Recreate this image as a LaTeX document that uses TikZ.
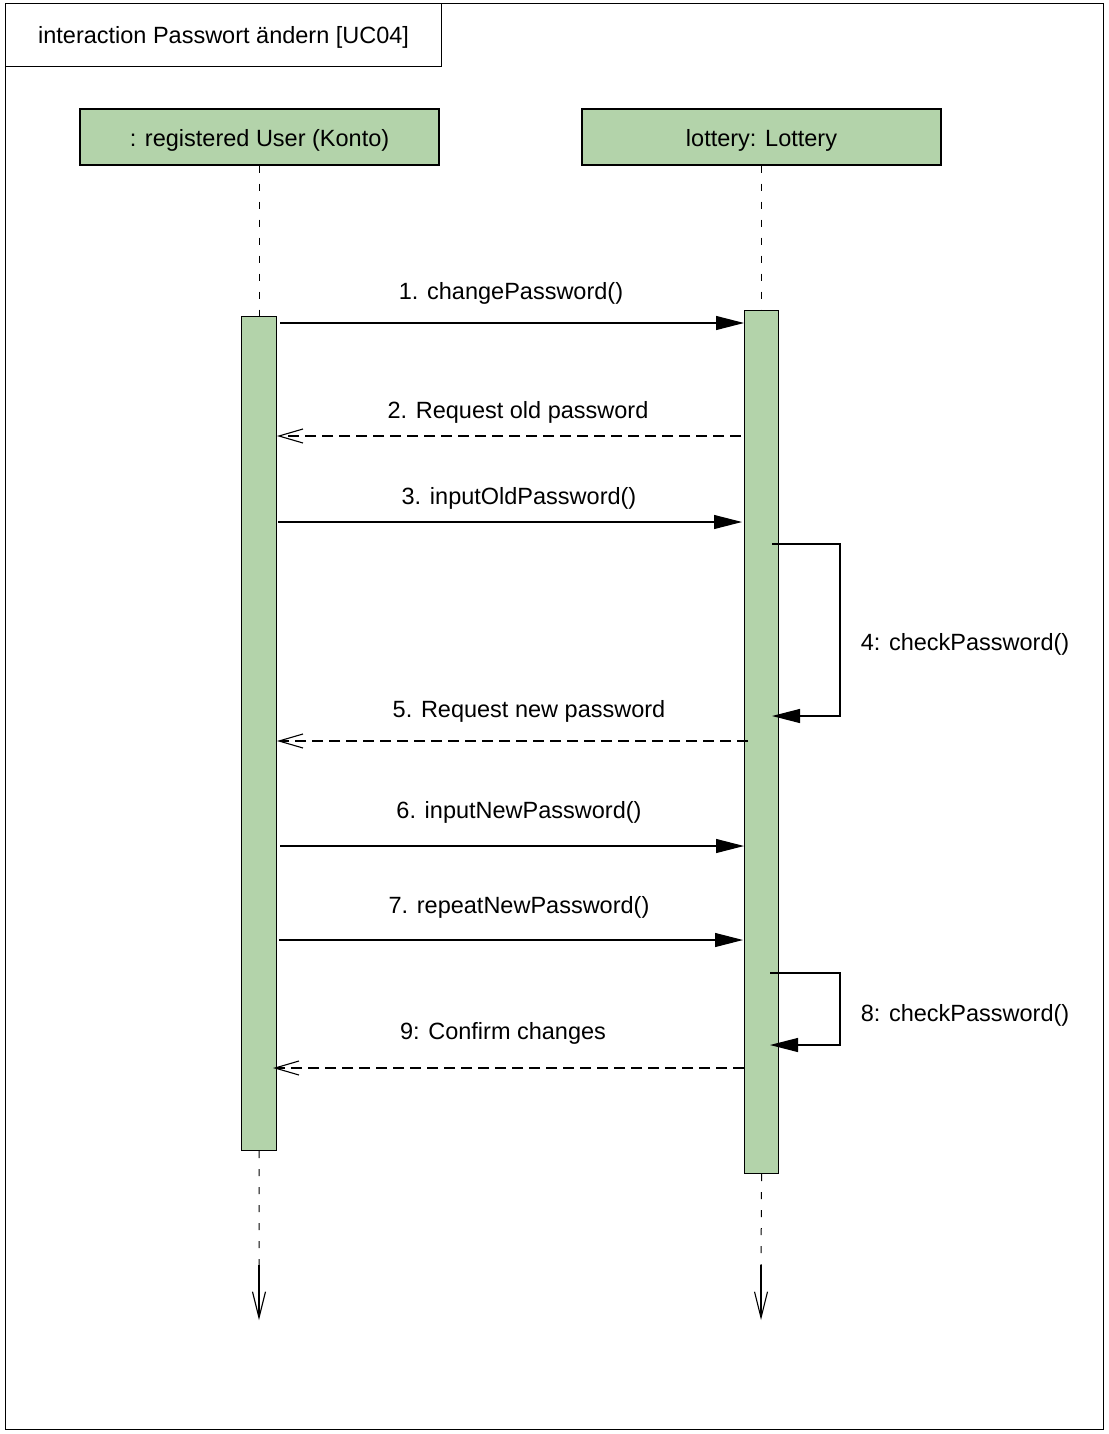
\documentclass[tikz,border=0pt]{standalone}
\usepackage{fontspec}
\setmainfont{Liberation Sans}
\usetikzlibrary{arrows.meta}
\definecolor{actgreen}{HTML}{B3D3AA}
\tikzset{
  lbl/.style={font=\fontsize{23.5}{28}\selectfont, inner sep=0pt},
  header/.style={draw, line width=1.2pt, fill=actgreen, minimum width=359pt, minimum height=56pt, inner sep=0pt},
  actbar/.style={draw, line width=1.2pt, fill=actgreen, inner sep=0pt},
  lifeline/.style={line width=1pt, dash pattern=on 7pt off 11pt},
  syncmsg/.style={line width=1.1pt, -{Triangle[length=28pt,width=14pt]}},
  retmsg/.style={line width=1.1pt, dash pattern=on 11pt off 6pt, -{Straight Barb[length=24pt,width=14pt,line width=1.1pt]}},
  endarrow/.style={line width=1.1pt, -{Straight Barb[length=26pt,width=13pt,line width=1.1pt]}}
}
\begin{document}
\begin{tikzpicture}[x=1pt,y=-1pt]
\useasboundingbox (0,0) rectangle (1108,1434);
% frame
\node[draw, line width=1.2pt, minimum width=1098pt, minimum height=1426pt, anchor=north west, inner sep=0pt] (frame) at (5,3) {};
\node[draw, line width=1.2pt, minimum width=436pt, minimum height=63pt, anchor=north west, inner sep=0pt] (title) at (5,3) {};
\node[lbl, yshift=-2pt] (titletext) at (title) {interaction Passwort ändern [UC04]};
% headers
\node[header] (h1) at (259.5,137) {};
\node[header] (h2) at (761.5,137) {};
\node[lbl, yshift=-3pt] (h1text) at (h1) {: registered User (Konto)};
\node[lbl, yshift=-3pt] (h2text) at (h2) {lottery: Lottery};
% activation bars
\node[actbar, minimum width=35pt, minimum height=834pt, anchor=north west] (a1) at (241,316) {};
\node[actbar, minimum width=34pt, minimum height=863pt, anchor=north west] (a2) at (744,310) {};
% lifelines
\coordinate (e1) at (259,1320);
\coordinate (e2) at (761,1320);
\coordinate (m1) at (259,1265);
\coordinate (m2) at (761,1265);
\draw[lifeline] (h1.south -| a1.north) -- (a1.north);
\draw[lifeline] (h2.south -| a2.north) -- (a2.north);
\draw[lifeline] (a1.south) -- (m1);
\draw[lifeline] (a2.south) -- (m2);
\draw[endarrow] (m1) -- (e1);
\draw[endarrow] (m2) -- (e2);
% message endpoints
\coordinate (s1) at (280,323);   \coordinate (t1) at (744,323);
\coordinate (s2) at (741,436);   \coordinate (t2) at (277,436);
\coordinate (s3) at (278,522);   \coordinate (t3) at (742,522);
\coordinate (s4) at (772,544);   \coordinate (t4) at (772,716);
\coordinate (s5) at (748,741);   \coordinate (t5) at (277,741);
\coordinate (s6) at (280,846);   \coordinate (t6) at (744,846);
\coordinate (s7) at (279,940);   \coordinate (t7) at (743,940);
\coordinate (s8) at (770,973);   \coordinate (t8) at (770,1045);
\coordinate (s9) at (744,1068);  \coordinate (t9) at (273,1068);
% messages
\draw[syncmsg] (s1) -- (t1);
\node[lbl] (l1) at (511,293) {1. changePassword()};
\draw[retmsg] (s2) -- (t2);
\node[lbl] (l2) at (518,412) {2. Request old password};
\draw[syncmsg] (s3) -- (t3);
\node[lbl] (l3) at (519,498) {3. inputOldPassword()};
\draw[syncmsg] (s4) -- (840,544) -- (840,716) -- (t4);
\node[lbl] (l4) at (965,644) {4: checkPassword()};
\draw[retmsg] (s5) -- (t5);
\node[lbl] (l5) at (529,711) {5. Request new password};
\draw[syncmsg] (s6) -- (t6);
\node[lbl] (l6) at (519,812) {6. inputNewPassword()};
\draw[syncmsg] (s7) -- (t7);
\node[lbl] (l7) at (519,907) {7. repeatNewPassword()};
\draw[syncmsg] (s8) -- (840,973) -- (840,1045) -- (t8);
\node[lbl] (l8) at (965,1015) {8: checkPassword()};
\draw[retmsg] (s9) -- (t9);
\node[lbl] (l9) at (503,1033) {9: Confirm changes};
\end{tikzpicture}
\end{document}
